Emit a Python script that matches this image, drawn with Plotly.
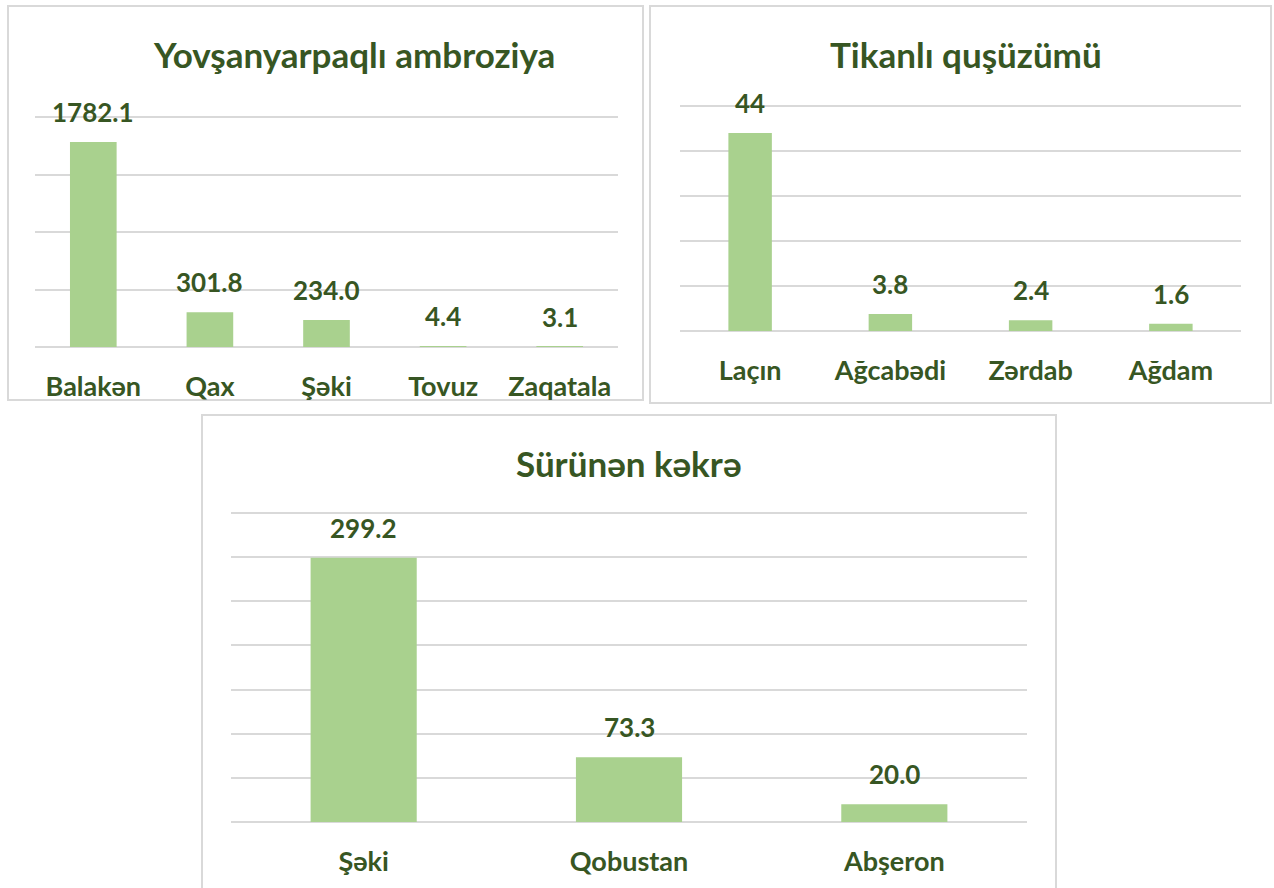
import plotly.graph_objects as go

W, H = 1274, 888

# ---------------- data ----------------
amb_regions = ["Balakən", "Qax", "Şəki", "Tovuz", "Zaqatala"]
amb_values = [1782.1, 301.8, 234.0, 4.4, 3.1]

qus_regions = ["Laçın", "Ağcabədi", "Zərdab", "Ağdam"]
qus_values = [44, 3.8, 2.4, 1.6]

kek_regions = ["Şəki", "Qobustan", "Abşeron"]
kek_values = [299.2, 73.3, 20.0]

titles = ["Yovşanyarpaqlı ambroziya", "Tikanlı quşüzümü", "Sürünən kəkrə"]

# ---------------- style ----------------
BAR = "#A9D18E"
TXT = "#375623"
GRID = "#D9D9D9"
FONT = "Lato"
PAD = 1.03  # headroom so the top gridline is drawn


def fx(px):
    return px / W


def fy(py):
    return 1 - py / H


panels = [
    dict(cats=amb_regions, vals=amb_values, title=titles[0], fmt="{:.1f}",
         box=(8, 6, 643, 400), plot=(35, 117, 618, 347), rng=2000, dtick=500,
         width=0.4, title_xy=(354, 54)),
    dict(cats=qus_regions, vals=qus_values, title=titles[1], fmt="{:g}",
         box=(650, 6, 1271, 403), plot=(680, 106, 1241, 331), rng=50, dtick=10,
         width=0.31, title_xy=(966, 54)),
    dict(cats=kek_regions, vals=kek_values, title=titles[2], fmt="{:.1f}",
         box=(202, 415, 1056, 900), plot=(231, 513, 1027, 822), rng=350, dtick=50,
         width=0.4, title_xy=(629, 463)),
]

fig = go.Figure()
shapes = []
annotations = []

for i, p in enumerate(panels, start=1):
    xa = "x" if i == 1 else f"x{i}"
    ya = "y" if i == 1 else f"y{i}"
    fig.add_trace(go.Bar(
        x=p["cats"], y=p["vals"], xaxis=xa, yaxis=ya,
        marker=dict(color=BAR, line=dict(width=0)),
        width=p["width"], hoverinfo="x+y", showlegend=False,
    ))
    x0, y0, x1, y1 = p["plot"]
    top = y1 - (y1 - y0) * PAD
    key = "" if i == 1 else str(i)
    fig.layout["xaxis" + key] = dict(
        domain=[fx(x0), fx(x1)], anchor=ya, type="category",
        showgrid=False, showline=False, zeroline=False, ticks="",
        tickfont=dict(family=FONT, size=27, color=TXT, weight="bold"),
        ticklabelstandoff=21, fixedrange=True,
    )
    fig.layout["yaxis" + key] = dict(
        domain=[fy(y1), fy(top)], anchor=xa, range=[0, p["rng"] * PAD],
        tick0=0, dtick=p["dtick"], showticklabels=False, showgrid=True,
        gridcolor=GRID, gridwidth=1.5, zeroline=True, zerolinecolor=GRID,
        zerolinewidth=1.5, showline=False, ticks="", fixedrange=True,
    )
    # value labels
    for c, v in zip(p["cats"], p["vals"]):
        annotations.append(dict(
            x=c, y=v, xref=xa, yref=ya, text=p["fmt"].format(v),
            showarrow=False, yanchor="bottom", yshift=12,
            font=dict(family=FONT, size=26, color=TXT, weight="bold"),
        ))
    # panel title
    tx, ty = p["title_xy"]
    annotations.append(dict(
        x=fx(tx), y=fy(ty), xref="paper", yref="paper", text=p["title"],
        showarrow=False, xanchor="center", yanchor="middle",
        font=dict(family=FONT, size=35, color=TXT, weight="bold"),
    ))
    # panel border
    bx0, by0, bx1, by1 = p["box"]
    shapes.append(dict(
        type="rect", xref="paper", yref="paper",
        x0=fx(bx0), x1=fx(bx1), y0=fy(by1), y1=fy(by0),
        line=dict(color=GRID, width=2), fillcolor="rgba(0,0,0,0)", layer="below",
    ))

fig.update_layout(
    width=W, height=H, margin=dict(l=0, r=0, t=0, b=0),
    paper_bgcolor="white", plot_bgcolor="rgba(0,0,0,0)",
    shapes=shapes, annotations=annotations, showlegend=False,
    font=dict(family=FONT, color=TXT),
)

fig.write_html(
    "out.html",
    config={"displayModeBar": False},
    post_script="document.body.style.margin='0';document.body.style.overflow='hidden';",
)
